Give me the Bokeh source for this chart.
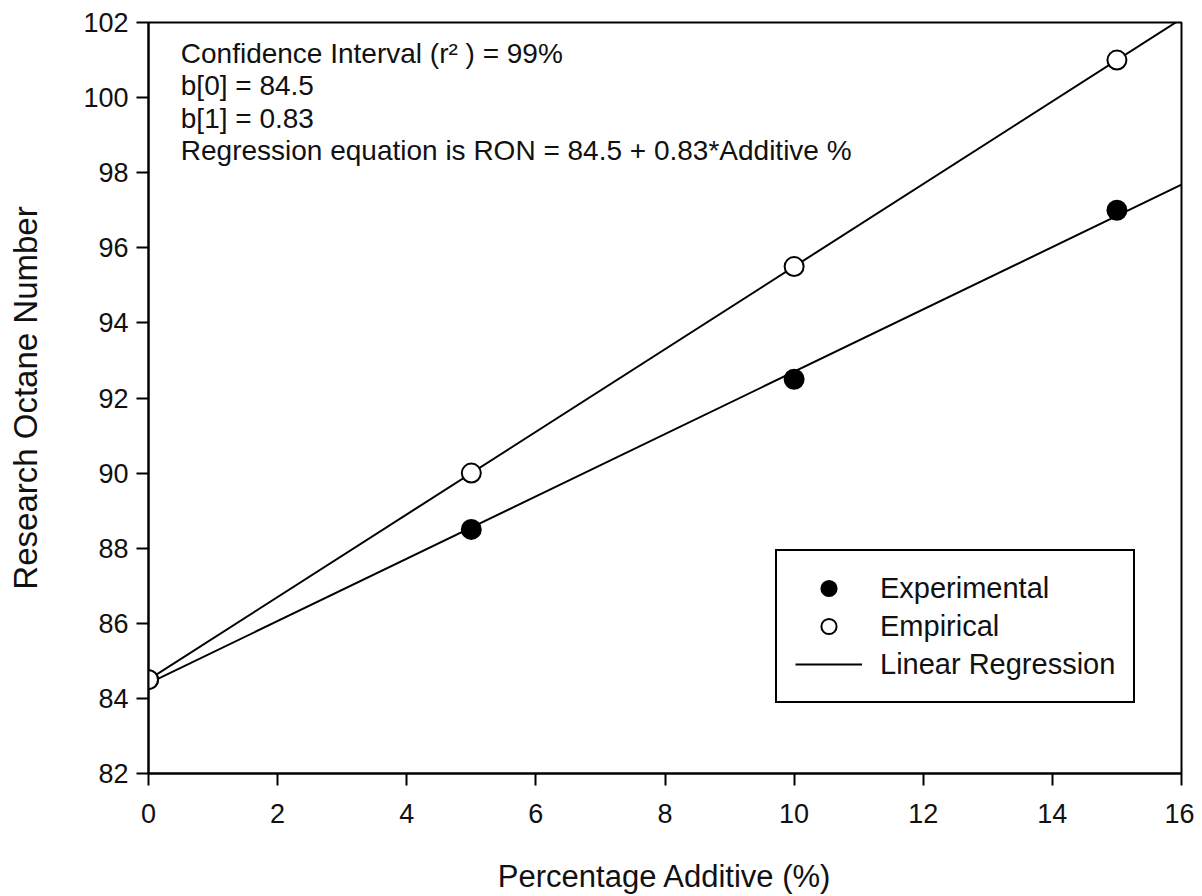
from bokeh.plotting import figure
from bokeh.models import Range1d, Label, Legend, LegendItem, FixedTicker
from bokeh.embed import file_html
from bokeh.resources import INLINE

# Data
additive = [0, 5, 10, 15]
experimental = [84.5, 88.5, 92.5, 97.0]
empirical = [84.5, 90.0, 95.5, 101.0]

# regression lines (intercept, slope)
reg_x = [0, 16]
exp_b0, exp_b1 = 84.4, 0.83
emp_b0, emp_b1 = 84.5, 1.10
exp_reg_y = [exp_b0 + exp_b1 * x for x in reg_x]
emp_reg_y = [emp_b0 + emp_b1 * x for x in reg_x]

x_ticks = [0, 2, 4, 6, 8, 10, 12, 14, 16]
y_ticks = [82, 84, 86, 88, 90, 92, 94, 96, 98, 100, 102]

annotations = [
    "Confidence Interval (r\u00b2 ) = 99%",
    "b[0] = 84.5",
    "b[1] = 0.83",
    "Regression equation is RON = 84.5 + 0.83*Additive %",
]

FONT = "Liberation Sans"

p = figure(width=1194, height=896, output_backend="svg", toolbar_location=None,
           x_range=Range1d(0, 16), y_range=Range1d(82, 102),
           min_border_left=148, min_border_top=22, min_border_right=13,
           min_border_bottom=123)
p.xgrid.visible = False
p.ygrid.visible = False
p.outline_line_color = "black"
p.outline_line_width = 2
p.background_fill_color = "white"
p.border_fill_color = "white"

for ax in (p.xaxis[0], p.yaxis[0]):
    ax.axis_line_width = 2
    ax.major_tick_line_width = 2
    ax.major_tick_out = 12
    ax.major_tick_in = 0
    ax.minor_tick_out = 0
    ax.minor_tick_in = 0
    ax.major_label_text_font = FONT
    ax.major_label_text_font_size = "27px"
    ax.major_label_text_color = "#111111"
    ax.axis_label_text_font = FONT
    ax.axis_label_text_font_style = "normal"
    ax.axis_label_text_color = "#111111"

p.xaxis.ticker = FixedTicker(ticks=x_ticks)
p.yaxis.ticker = FixedTicker(ticks=y_ticks)
p.xaxis.axis_label = "Percentage Additive (%)"
p.yaxis.axis_label = "Research Octane Number"
p.xaxis.axis_label_text_font_size = "31px"
p.yaxis.axis_label_text_font_size = "33px"
p.xaxis.major_label_standoff = 18
p.yaxis.major_label_standoff = 8
p.xaxis.axis_label_standoff = 33
p.yaxis.axis_label_standoff = 36

l1 = p.line(reg_x, exp_reg_y, line_color="black", line_width=2)
l2 = p.line(reg_x, emp_reg_y, line_color="black", line_width=2)
s1 = p.scatter(additive, experimental, size=19, marker="circle",
               fill_color="black", line_color="black", line_width=2)
s2 = p.scatter(additive, empirical, size=19, marker="circle",
               fill_color="white", line_color="black", line_width=2)

ys = [101.17, 100.32, 99.44, 98.59]
for txt, yv in zip(annotations, ys):
    p.add_layout(Label(x=0.5, y=yv, text=txt, text_font=FONT, text_font_size="28px",
                       text_baseline="middle", text_color="#111111"))

legend = Legend(items=[
    LegendItem(label="Experimental", renderers=[s1]),
    LegendItem(label="Empirical", renderers=[s2]),
    LegendItem(label="Linear Regression", renderers=[l1]),
], location=(627, 70))
legend.border_line_color = "black"
legend.border_line_alpha = 1.0
legend.border_line_width = 2
legend.padding = 18
legend.margin = 0
legend.spacing = 0
legend.glyph_width = 67
legend.glyph_height = 38
legend.label_height = 38
legend.label_standoff = 18
legend.label_text_font = FONT
legend.label_text_font_size = "29px"
legend.label_text_color = "#111111"
legend.background_fill_alpha = 1
p.add_layout(legend, "center")

open("out.html", "w").write(file_html(p, INLINE))
